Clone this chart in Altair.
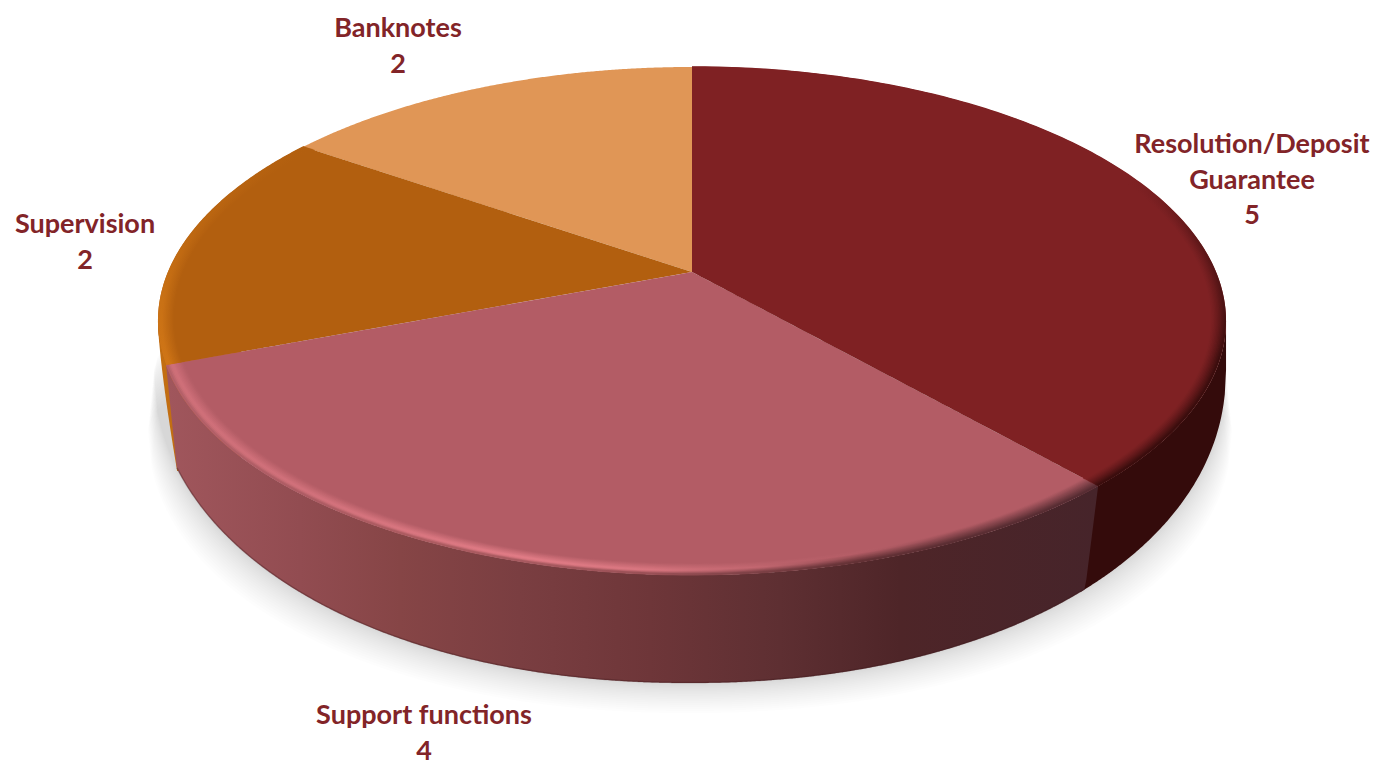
import altair as alt
import numpy as np
import pandas as pd

# Staff split per function
CATEGORIES = ["Resolution/Deposit\nGuarantee", "Support functions", "Supervision", "Banknotes"]
VALUES = [5, 4, 2, 2]

FACE_COLORS = ["#7f2123", "#b35c65", "#b25f0f", "#e09656"]
TEXT_COLOR = "#822428"

# Position of each label's first line on the canvas
LABEL_X = [1252, 424, 85, 398]
LABEL_Y = [145, 716, 225, 29]

W, H = 1380, 760

# Perspective disc: apex position, half axes and foreshortening
CX, CY, A, B, K = 692.0, 272.0, 524.0, 244.6, 0.193
# Lower outline of the disc's underside
BX, BY, BRX, BRY, BP = 690.0, 370.0, 536.0, 313.0, 2.1

xs_scale = alt.Scale(domain=[0, W], range=[0, W], nice=False, zero=False)
ys_scale = alt.Scale(domain=[H, 0], nice=False, zero=False)


def rim(theta, r=1.0):
    w = 1 + K * r * np.cos(theta)
    return CX + A * r * np.sin(theta) / w, CY - B * r * np.cos(theta) / w


def under(x):
    d = np.clip(np.abs(np.asarray(x, float) - BX) / BRX, 0, 1)
    return BY + BRY * (1 - d ** BP) ** (1 / BP)


def hex2rgb(c):
    return np.array([int(c[i:i + 2], 16) for i in (1, 3, 5)], float)


def mix(c1, c2, t):
    t = float(np.clip(t, 0, 1))
    v = hex2rgb(c1) * (1 - t) + hex2rgb(c2) * t
    return "#%02x%02x%02x" % tuple(int(round(u)) for u in v)


def convex_bounds(px, py):
    """Upper and lower edge of a convex outline at each of its x positions."""
    xs = np.unique(np.round(px, 3))
    lo, hi = [], []
    qx, qy = np.r_[px, px[0]], np.r_[py, py[0]]
    for x in xs:
        hits = []
        for i in range(len(px)):
            x0, x1 = qx[i], qx[i + 1]
            if min(x0, x1) - 1e-3 <= x <= max(x0, x1) + 1e-3:
                if abs(x1 - x0) < 1e-6:
                    hits += [qy[i], qy[i + 1]]
                else:
                    hits.append(qy[i] + (x - x0) / (x1 - x0) * (qy[i + 1] - qy[i]))
        lo.append(min(hits))
        hi.append(max(hits))
    return pd.DataFrame({"x": xs, "y": lo, "y2": hi})


def area(df, **mark):
    return alt.Chart(df).mark_area(interpolate="linear", **mark).encode(
        x=alt.X("x:Q", scale=xs_scale, axis=None),
        y=alt.Y("y:Q", scale=ys_scale, axis=None),
        y2="y2:Q",
    )


def line(df, **mark):
    return alt.Chart(df).mark_line(interpolate="linear", **mark).encode(
        x=alt.X("x:Q", scale=xs_scale, axis=None),
        y=alt.Y("y:Q", scale=ys_scale, axis=None),
        order="i:Q",
    )


def arc_df(t0, t1, r=1.0, n=160):
    x, y = rim(np.linspace(t0, t1, n), r)
    return pd.DataFrame({"x": x, "y": y, "i": np.arange(n)})


# Slice boundaries, clockwise from twelve o'clock
shares = np.array(VALUES, float) / sum(VALUES)
edges = np.r_[0, np.cumsum(shares)] * 2 * np.pi

layers = []

# Soft ground shadow: translucent outlines that spread and sink as they grow
for t in np.linspace(1, 0.03, 20):
    grow = 30 * t ** 1.4
    half = BRX + grow * 0.2
    centre = BY + 2 * grow
    sx = np.linspace(BX - half, BX + half, 300)
    d = np.abs(sx - BX) / half
    f = (1 - np.clip(d, 0, 1) ** BP) ** (1 / BP)
    layers.append(area(pd.DataFrame({"x": sx,
                                     "y": centre - 100 * f,
                                     "y2": centre + (BRY - grow) * f}),
                       color="#8f9897", opacity=0.014))

# Sliver of the orange side wall, running along the left silhouette
ty = np.linspace(320, 471, 60)
tx = 158 + 19 * (np.clip(ty - 325, 0, None) / 145) ** 1.3
layers.append(alt.Chart(pd.DataFrame({"x": tx, "x2": 240.0, "y": ty})).mark_area(
    orient="horizontal", color="#c26e12").encode(
    x=alt.X("x:Q", scale=xs_scale, axis=None),
    x2="x2:Q",
    y=alt.Y("y:Q", scale=ys_scale, axis=None),
))

# Dark red side wall
rx, ry = rim(np.linspace(np.radians(101), edges[1] + 0.45, 240))
wx = np.linspace(1080, rx.max(), 120)
wy = np.interp(wx, rx[::-1], ry[::-1])
layers.append(area(pd.DataFrame({"x": wx, "y": wy, "y2": np.maximum(under(wx), wy)}),
                   color="#340b0b"))

# Rose side wall with its left-to-right shading
rx, ry = rim(np.linspace(edges[1], edges[2], 400))
wx = np.unique(np.r_[rx, np.linspace(rx.min(), rx.max(), 400)])
wy = np.interp(wx, rx[::-1], ry[::-1])
corner_l, corner_r = rim(edges[2])[1], rim(edges[1])[1]
left_edge = np.where(wx < 177, corner_l + (wx - rx.min()) / (177 - rx.min()) * (470 - corner_l), 9999)
right_edge = np.where(wx > 1085, corner_r + (rx.max() - wx) / (rx.max() - 1085) * (590 - corner_r), 9999)
wy2 = np.maximum(np.minimum.reduce([under(wx), left_edge, right_edge]), wy)
span0, span1 = wx.min(), wx.max()
WALL_STOPS = [(168, "#a0565c"), (300, "#924c51"), (400, "#864546"), (520, "#7a3e41"),
              (650, "#6e3639"), (780, "#5e2f32"), (900, "#4e2528"), (1098, "#46242a")]
wall_gradient = alt.Gradient(
    gradient="linear", x1=0, x2=1, y1=0, y2=0,
    stops=[alt.GradientStop(offset=float(np.clip((p - span0) / (span1 - span0), 0, 1)), color=c)
           for p, c in WALL_STOPS],
)
layers.append(area(pd.DataFrame({"x": wx, "y": wy, "y2": wy2}), color=wall_gradient))

# Dark hairline along the underside of the rose wall
ux = np.linspace(177, 1085, 300)
layers.append(line(pd.DataFrame({"x": ux, "y": under(ux) - 0.5, "i": np.arange(300)}),
                   color="#3e1a1c", opacity=0.35, strokeWidth=1.5))

# Top faces, one wedge per category, starting from the back
for idx in [3, 2, 1, 0]:
    ax, ay = rim(np.linspace(edges[idx], edges[idx + 1], 240))
    layers.append(area(convex_bounds(np.r_[CX, ax], np.r_[CY, ay]), color=FACE_COLORS[idx]))


# Rounded bevel along the front edges: nested strokes whose colour depends on
# the distance from the rim and the position along it
def bevel(t0, t1, positions, colour_at, levels, vertical=False):
    frame = arc_df(t0, t1)
    span = frame["y"] if vertical else frame["x"]
    a, b = float(span.min()), float(span.max())
    for r in levels:
        grad = alt.Gradient(
            gradient="linear",
            x1=0, x2=0 if vertical else 1,
            y1=0, y2=1 if vertical else 0,
            stops=[alt.GradientStop(offset=float(np.clip((p - a) / (b - a), 0, 1)),
                                    color=colour_at(p, r))
                   for p in positions],
        )
        layers.append(line(arc_df(t0, t1, r), stroke=grad, strokeWidth=2.2, strokeCap="butt"))


ROSE_X = [168, 300, 420, 520, 650, 760, 860, 960, 1098]
ROSE_GLOW = [0.6, 0.65, 0.85, 1.0, 0.8, 0.4, 0.1, 0.0, 0.0]
ROSE_SOFT = [0.992, 0.992, 0.992, 0.992, 0.991, 0.986, 0.978, 0.972, 0.970]
WALL_AT = dict(zip(ROSE_X, ["#a0565c", "#924c51", "#864546", "#7a3e41", "#6e3639",
                            "#5e2f32", "#4e2528", "#4a2529", "#46242a"]))


def rose_colour(p, r):
    i = ROSE_X.index(p)
    glow = np.clip((r - 0.970) / 0.018, 0, 1) * ROSE_GLOW[i]
    base = mix(FACE_COLORS[1], "#e07b85", glow)
    soft = ROSE_SOFT[i]
    return mix(base, WALL_AT[p], (r - soft) / (1.003 - soft))


LEVELS = np.arange(0.968, 1.0005, 0.0025)
bevel(edges[1], edges[2], ROSE_X, rose_colour, LEVELS)

RED_Y = [67, 180, 240, 300, 360, 486]
RED_POWER = [0.0, 0.0, 0.45, 0.7, 1.0, 1.0]


def red_colour(p, r):
    power = RED_POWER[RED_Y.index(p)]
    return mix(FACE_COLORS[0], "#340b0b", power * ((r - 0.972) / 0.028) ** 1.3 if r > 0.972 else 0)


bevel(edges[0], edges[1], RED_Y, red_colour, LEVELS, vertical=True)

ORANGE_Y = [140, 230, 300, 365]
ORANGE_POWER = [0.0, 0.35, 0.8, 1.0]


def orange_colour(p, r):
    power = ORANGE_POWER[ORANGE_Y.index(p)]
    return mix(FACE_COLORS[2], "#cf7516", power * np.clip((r - 0.972) / 0.022, 0, 1))


bevel(edges[2], edges[3], ORANGE_Y, orange_colour, LEVELS, vertical=True)

# Category labels with their counts
labels = pd.DataFrame({
    "text": [f"{c}\n{v}" for c, v in zip(CATEGORIES, VALUES)],
    "x": LABEL_X,
    "y": LABEL_Y,
})
layers.append(alt.Chart(labels).mark_text(
    font="Lato", fontWeight="bold", fontSize=27, color=TEXT_COLOR,
    align="center", baseline="middle", lineBreak="\n", lineHeight=35.5,
).encode(
    x=alt.X("x:Q", scale=xs_scale, axis=None),
    y=alt.Y("y:Q", scale=ys_scale, axis=None),
    text="text:N",
))

chart = alt.layer(*layers).properties(
    width=W, height=H, padding=0, autosize=alt.AutoSizeParams(type="none"),
    background="#ffffff",
).configure_view(stroke=None)

chart.save("out.html", embed_options={"renderer": "svg", "actions": False})
